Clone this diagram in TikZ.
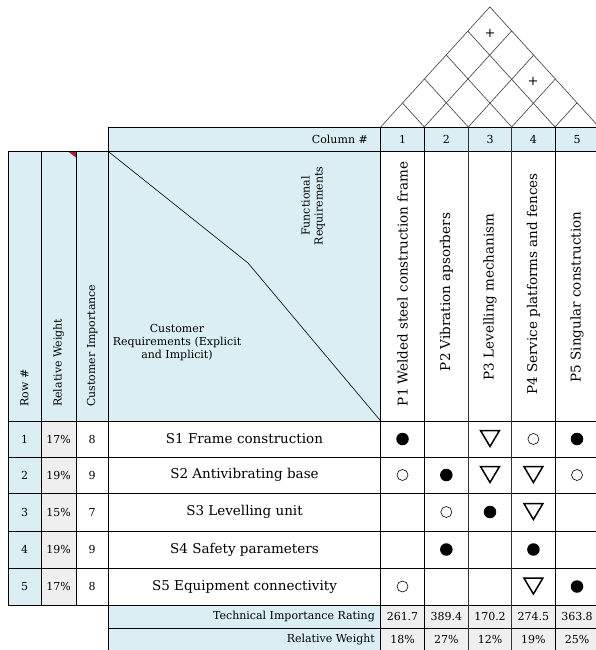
\documentclass[tikz,border=0pt]{standalone}
\usepackage{fontspec}
\setmainfont{DejaVu Serif}
\usetikzlibrary{calc}
\definecolor{lb}{HTML}{DAEEF3}
\definecolor{lg}{HTML}{EFEFEF}
\definecolor{cmt}{HTML}{A3262A}
\definecolor{roofc}{HTML}{3A3A3A}
\begin{document}
\begin{tikzpicture}[x=1pt,y=-1pt,
  gridl/.style={draw=black, line width=0.75pt},
  thickl/.style={draw=black!80, line width=1.4pt},
  roofl/.style={draw=roofc, line width=0.6pt},
  big/.style={font=\fontsize{13.5}{16}\selectfont, inner sep=0pt},
  small/.style={font=\fontsize{11}{13}\selectfont, inner sep=0pt},
  fdot/.style={circle, fill=black, minimum size=12.5pt, inner sep=0pt},
  odot/.style={circle, draw=black, line width=0.6pt, minimum size=11pt, inner sep=0pt},
  tri/.style={draw=black, line width=1.5pt, line join=miter}
]
\useasboundingbox (0,0) rectangle (596,650);
% ---------- fills ----------
\fill[lb] (108.3,127) rectangle (599,151.5);
\fill[lb] (8,151.5) rectangle (380.7,421);
\fill[lb] (8,421) rectangle (41.3,605);
\fill[lg] (41.3,421) rectangle (76,605);
\fill[lb] (108.3,605) rectangle (380.7,651);
\fill[lg] (380.7,605) rectangle (599,651);
% comment marker
\fill[cmt] (68,151.5) -- (76,151.5) -- (76,157.5) -- cycle;
% ---------- roof ----------
\foreach \b in {380.7,424.3,468.3,511.7,555,599} {
  \draw[roofl] (\b,127) -- ({(\b+599)/2},{127-(599-\b)/2*1.1});
  \draw[roofl] (\b,127) -- ({(\b+380.7)/2},{127-(\b-380.7)/2*1.1});
}
\node[font=\fontsize{13}{15}\selectfont, inner sep=0pt] (plusA) at (490,33) {+};
\node[font=\fontsize{13}{15}\selectfont, inner sep=0pt] (plusB) at (533,81) {+};
% ---------- grid ----------
\draw[gridl] (108.3,127) -- (599,127);
\foreach \y in {151.5,421,457,493,531,568,605} { \draw[gridl] (8,\y) -- (599,\y); }
\draw[gridl] (108.3,628) -- (599,628);
\draw[gridl] (108.3,651) -- (599,651);
\foreach \x in {8,41.3,76} { \draw[gridl] (\x,151.5) -- (\x,605); }
\foreach \x in {108.3,380.7,424.3,555,599} { \draw[gridl] (\x,127) -- (\x,651); }
\foreach \x in {468.3,511.7} { \draw[thickl] (\x,127) -- (\x,651); }
% diagonal
\coordinate (dA) at (108.3,151.5);
\coordinate (dB) at (248,263);
\coordinate (dC) at (380.7,421);
\draw[black, line width=0.6pt] (dA) -- (dB) -- (dC);
% ---------- header texts ----------
\node[small, anchor=east] (colhdr) at (368,139.5) {Column \#};
\foreach \x [count=\i] in {402.5,446.3,490,533.4,577} {
  \node[small] (cn\i) at (\x,139.5) {\i};
}
\node[small, rotate=90, align=center] (fr) at (313,206) {Functional\\Requirements};
\node[small, align=center] (cr) at (177,343) {Customer\\Requirements (Explicit\\and Implicit)};
\node[small, rotate=90, anchor=west] (lrow) at (24.5,407) {Row \#};
\node[small, rotate=90, anchor=west] (lrw) at (58.7,407) {Relative Weight};
\node[small, rotate=90, anchor=west] (lci) at (92.2,407) {Customer Importance};
\node[big, rotate=90] (p1) at (402.5,284) {P1 Welded steel construction frame};
\node[big, rotate=90] (p2) at (446.3,292) {P2 Vibration apsorbers};
\node[big, rotate=90] (p3) at (490,297) {P3 Levelling mechanism};
\node[big, rotate=90] (p4) at (533.4,284) {P4 Service platforms and fences};
\node[big, rotate=90] (p5) at (577,297) {P5 Singular construction};
% ---------- rows ----------
\foreach \y/\r/\w/\c/\s [count=\i] in {
  439/1/17\%/8/S1 Frame construction,
  475/2/19\%/9/S2 Antivibrating base,
  512/3/15\%/7/S3 Levelling unit,
  549.5/4/19\%/9/S4 Safety parameters,
  586.5/5/17\%/8/S5 Equipment connectivity} {
  \node[small] (rn\i) at (24.5,\y) {\r};
  \node[small] (rw\i) at (58.7,\y) {\w};
  \node[small] (ci\i) at (92.2,\y) {\c};
  \node[big] (sr\i) at (244.5,\y) {\s};
}
% ---------- symbols ----------
\foreach \x [count=\j] in {402.5,446.3,490,533.4,577} {
  \foreach \y [count=\i] in {439,475,512,549.5,586.5} {
    \coordinate (m\i\j) at (\x,\y);
  }
}
\foreach \c in {m11,m15,m22,m33,m42,m44,m55} { \node[fdot] at (\c) {}; }
\foreach \c in {m14,m21,m25,m32,m51} { \node[odot] at (\c) {}; }
\foreach \c in {m13,m23,m24,m34,m54} {
  \draw[tri] ($(\c)+(-9.5,-8.5)$) -- ++(19,0) -- ++(-9.5,16) -- cycle;
}
% ---------- bottom rows ----------
\node[small, anchor=east] (tir) at (375,616.5) {Technical Importance Rating};
\node[small, anchor=east] (rwl) at (375,639.5) {Relative Weight};
\foreach \x/\v/\p [count=\j] in {402.5/261.7/18\%,446.3/389.4/27\%,490/170.2/12\%,533.4/274.5/19\%,577/363.8/25\%} {
  \node[small] (tv\j) at (\x,616.5) {\v};
  \node[small] (pv\j) at (\x,639.5) {\p};
}
\end{tikzpicture}
\end{document}
